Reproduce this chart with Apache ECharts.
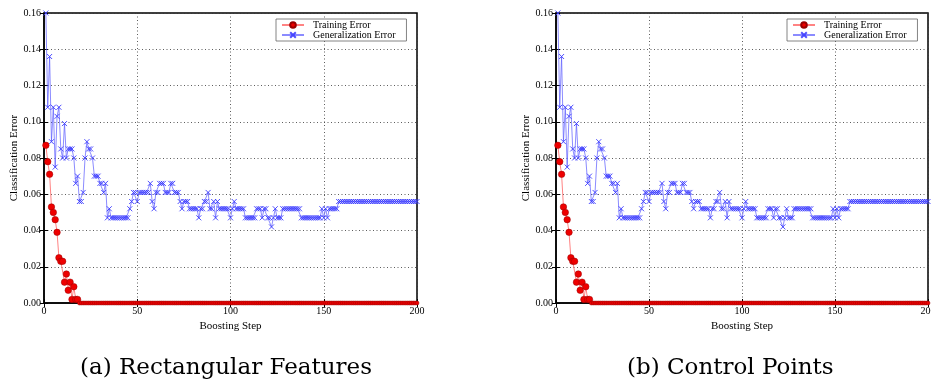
<!DOCTYPE html>
<html>
<head>
<meta charset="utf-8">
<script src="https://cdn.jsdelivr.net/npm/echarts@6/dist/echarts.min.js"></script>
<style>
html,body{margin:0;padding:0;background:#fff;}
#c{width:931px;height:384px;}
</style>
</head>
<body>
<div id="c"></div>
<script>
// Boosting steps 1..200
var trainingError = [
  0.087, 0.078, 0.071, 0.053, 0.050, 0.046, 0.039, 0.025, 0.023, 0.023,
  0.0115, 0.016, 0.007, 0.0115, 0.002, 0.009, 0.002, 0.002, 0, 0,
  0,0,0,0,0,0,0,0,0,0, 0,0,0,0,0,0,0,0,0,0,
  0,0,0,0,0,0,0,0,0,0, 0,0,0,0,0,0,0,0,0,0,
  0,0,0,0,0,0,0,0,0,0, 0,0,0,0,0,0,0,0,0,0,
  0,0,0,0,0,0,0,0,0,0, 0,0,0,0,0,0,0,0,0,0,
  0,0,0,0,0,0,0,0,0,0, 0,0,0,0,0,0,0,0,0,0,
  0,0,0,0,0,0,0,0,0,0, 0,0,0,0,0,0,0,0,0,0,
  0,0,0,0,0,0,0,0,0,0, 0,0,0,0,0,0,0,0,0,0,
  0,0,0,0,0,0,0,0,0,0, 0,0,0,0,0,0,0,0,0,0,
  0,0,0,0,0,0,0,0,0,0, 0,0,0,0,0,0,0,0,0,0
];
var generalizationError = [
  0.160, 0.108, 0.136, 0.089, 0.108, 0.075, 0.103, 0.108, 0.085, 0.080,
  0.099, 0.080, 0.085, 0.085, 0.085, 0.080, 0.066, 0.070, 0.056, 0.056,
  0.061, 0.080, 0.089, 0.085, 0.085, 0.080, 0.070, 0.070, 0.070, 0.066,
  0.066, 0.061, 0.066, 0.047, 0.052, 0.047, 0.047, 0.047, 0.047, 0.047,
  0.047, 0.047, 0.047, 0.047, 0.047, 0.052, 0.056, 0.061, 0.061, 0.056,
  0.061, 0.061, 0.061, 0.061, 0.061, 0.061, 0.066, 0.056, 0.052, 0.061,
  0.061, 0.066, 0.066, 0.066, 0.061, 0.061, 0.061, 0.066, 0.066, 0.061,
  0.061, 0.061, 0.056, 0.052, 0.056, 0.056, 0.056, 0.052, 0.052, 0.052,
  0.052, 0.052, 0.047, 0.052, 0.052, 0.056, 0.056, 0.061, 0.052, 0.052,
  0.056, 0.047, 0.056, 0.052, 0.052, 0.052, 0.052, 0.052, 0.052, 0.047,
  0.052, 0.056, 0.052, 0.052, 0.052, 0.052, 0.052, 0.047, 0.047, 0.047,
  0.047, 0.047, 0.047, 0.052, 0.052, 0.052, 0.047, 0.052, 0.052, 0.047,
  0.047, 0.042, 0.047, 0.052, 0.047, 0.047, 0.047, 0.052, 0.052, 0.052,
  0.052, 0.052, 0.052, 0.052, 0.052, 0.052, 0.052, 0.047, 0.047, 0.047,
  0.047, 0.047, 0.047, 0.047, 0.047, 0.047, 0.047, 0.047, 0.052, 0.047,
  0.052, 0.047, 0.052, 0.052, 0.052, 0.052, 0.052, 0.056, 0.056, 0.056,
  0.056, 0.056, 0.056, 0.056, 0.056, 0.056, 0.056, 0.056, 0.056, 0.056,
  0.056, 0.056, 0.056, 0.056, 0.056, 0.056, 0.056, 0.056, 0.056, 0.056,
  0.056, 0.056, 0.056, 0.056, 0.056, 0.056, 0.056, 0.056, 0.056, 0.056,
  0.056, 0.056, 0.056, 0.056, 0.056, 0.056, 0.056, 0.056, 0.056, 0.056
];
var xTicks = { min: 0, max: 200, interval: 50 };
var yTicks = { min: 0, max: 0.16, interval: 0.02 };
var seriesNames = ['Training Error', 'Generalization Error'];
var captions = ['(a) Rectangular Features', '(b) Control Points'];

var FONT = 'Liberation Serif';
function pairs(arr) { return arr.map(function (v, i) { return [i + 1, v]; }); }

var grids = [
  { left: 44, top: 13, width: 373, height: 290 },
  { left: 556, top: 13, width: 372, height: 290 }
];
var option = {
  animation: false,
  backgroundColor: '#fff',
  grid: grids.map(function (g) {
    return Object.assign({ show: true, borderColor: '#000', borderWidth: 1.5, backgroundColor: 'transparent',
      containLabel: false, outerBoundsMode: 'none' }, g);
  }),
  xAxis: [], yAxis: [], series: [], legend: [], graphic: []
};
var splitStyle = { show: true, lineStyle: { color: '#333', type: [1, 2.5], width: 0.8 } };
[0, 1].forEach(function (gi) {
  option.xAxis.push({
    type: 'value', gridIndex: gi, min: xTicks.min, max: xTicks.max, interval: xTicks.interval,
    name: 'Boosting Step', nameLocation: 'middle', nameGap: 10,
    nameTextStyle: { fontFamily: FONT, fontSize: 11, color: '#000' },
    axisLine: { show: true, lineStyle: { color: '#000', width: 1.5 } },
    axisTick: { show: true, inside: true, length: 4, lineStyle: { color: '#000' } },
    axisLabel: { fontFamily: FONT, fontSize: 10, color: '#000', margin: 3, hideOverlap: false },
    splitLine: splitStyle
  });
  option.xAxis.push({
    type: 'value', gridIndex: gi, position: 'top', min: xTicks.min, max: xTicks.max, interval: xTicks.interval,
    axisLine: { show: false }, axisLabel: { show: false }, splitLine: { show: false },
    axisTick: { show: true, inside: true, length: 4, lineStyle: { color: '#000' } }
  });
  option.yAxis.push({
    type: 'value', gridIndex: gi, min: yTicks.min, max: yTicks.max, interval: yTicks.interval,
    name: 'Classification Error', nameLocation: 'middle', nameGap: 22,
    nameTextStyle: { fontFamily: FONT, fontSize: 11, color: '#000' },
    axisLine: { show: true, lineStyle: { color: '#000', width: 1.5 } },
    axisTick: { show: true, inside: true, length: 4, lineStyle: { color: '#000' } },
    axisLabel: { fontFamily: FONT, fontSize: 10, color: '#000', margin: 3, formatter: function (v) { return v.toFixed(2); } },
    splitLine: splitStyle
  });
  option.yAxis.push({
    type: 'value', gridIndex: gi, position: 'right', min: yTicks.min, max: yTicks.max, interval: yTicks.interval,
    axisLine: { show: false }, axisLabel: { show: false }, splitLine: { show: false },
    axisTick: { show: true, inside: true, length: 4, lineStyle: { color: '#000' } }
  });
  option.series.push({
    name: seriesNames[0], type: 'line', xAxisIndex: gi * 2, yAxisIndex: gi * 2,
    data: pairs(trainingError), showAllSymbol: true, symbol: 'circle', z: 3,
    symbolSize: function (v) { return v[1] === 0 ? 4 : 6.5; },
    lineStyle: { color: 'rgba(255,90,90,0.75)', width: 1 },
    itemStyle: { color: '#ee0000', borderColor: '#990000', borderWidth: 0.5 }
  });
  option.series.push({
    name: seriesNames[1], type: 'line', xAxisIndex: gi * 2, yAxisIndex: gi * 2,
    data: pairs(generalizationError), showAllSymbol: true, z: 2,
    symbol: 'path://M0,0L10,10M10,0L0,10', symbolSize: 5,
    lineStyle: { color: 'rgba(90,90,255,0.7)', width: 1 },
    itemStyle: { color: 'rgba(60,60,255,0.9)', borderColor: 'rgba(60,60,255,0.9)', borderWidth: 1 }
  });
  option.legend.push({
    data: seriesNames, orient: 'vertical', left: gi === 0 ? 276 : 787, top: 19,
    itemGap: 0, itemWidth: 22, itemHeight: 7, padding: [1, 11, 1, 5],
    borderColor: '#666', borderWidth: 0.8, backgroundColor: '#fff',
    textStyle: { fontFamily: FONT, fontSize: 10, color: '#000', padding: [0, 0, 0, 4] }
  });
  option.graphic.push({
    type: 'text', left: gi === 0 ? 80 : 627, top: 357,
    style: { text: captions[gi], font: '23px "DejaVu Serif"', fill: '#000' }
  });
});
var chart = echarts.init(document.getElementById('c'), null, { renderer: 'canvas' });
chart.setOption(option);
</script>
</body>
</html>
